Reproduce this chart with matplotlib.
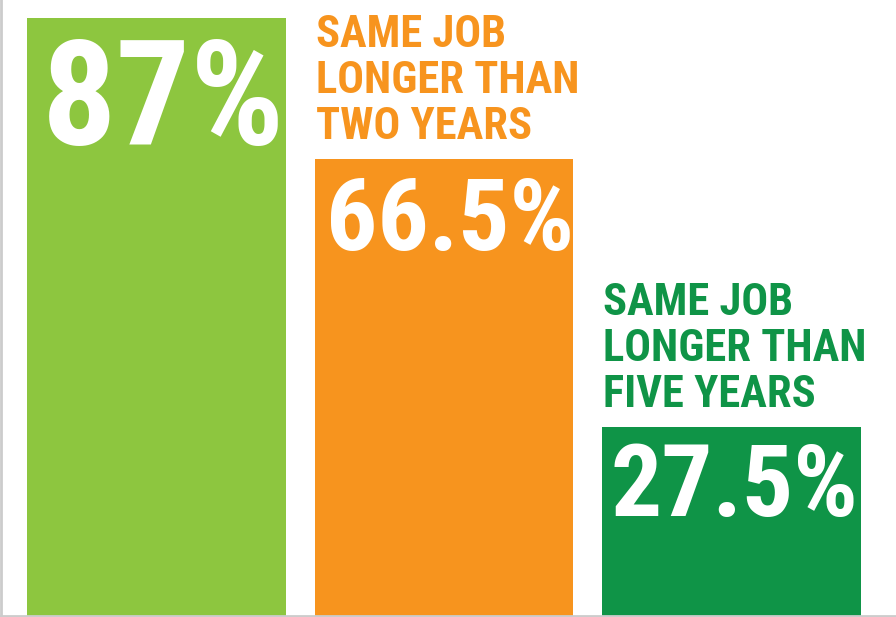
import matplotlib.pyplot as plt
from matplotlib import font_manager

values = [87, 66.5, 27.5]
value_labels = ["87%", "66.5%", "27.5%"]
captions = ["", "SAME JOB\nLONGER THAN\nTWO YEARS", "SAME JOB\nLONGER THAN\nFIVE YEARS"]
colors = ["#8DC63F", "#F7941E", "#0F9447"]

# pick a condensed bold face if one is around
names = {f.name for f in font_manager.fontManager.ttflist}
FONT = "DejaVu Sans"
for cand in ["Roboto Condensed", "Liberation Sans Narrow", "Open Sans Condensed", "Noto Sans Condensed"]:
    if cand in names:
        FONT = cand
        break

fig = plt.figure(figsize=(8.96, 6.17), dpi=100)
ax = fig.add_axes([0.001, 0.002, 0.999, 0.998])

x = list(range(len(values)))
width = 0.9
ax.bar(x, values, width=width, color=colors, zorder=2)

ax.set_xlim(-0.541, 2.572)
ax.set_ylim(0, 89.6)

ax.set_xticks([])
ax.set_yticks([])
for side in ["top", "right"]:
    ax.spines[side].set_visible(False)
for side in ["left", "bottom"]:
    ax.spines[side].set_color("#cccccc")
    ax.spines[side].set_linewidth(2)

pct_sizes = [106, 73, 73]
pct_pad = [0.052, 0.038, 0.030]
pct_drop = [2.5, 2.3, 2.0]
for i, v in enumerate(values):
    left = x[i] - width / 2
    ax.text(left + pct_pad[i], v - pct_drop[i], value_labels[i], color="white",
            fontsize=pct_sizes[i], fontweight="bold", family=FONT,
            ha="left", va="top", zorder=3)
    if captions[i]:
        ax.text(left + 0.004, v + 1.6, captions[i], color=colors[i],
                fontsize=32, fontweight="bold", family=FONT,
                ha="left", va="bottom", linespacing=1.12, zorder=3)

plt.savefig("out.png", dpi=100)
